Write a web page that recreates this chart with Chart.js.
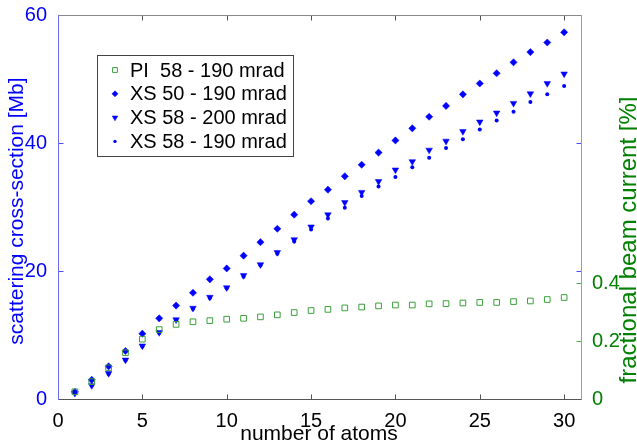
<!DOCTYPE html>
<html>
<head>
<meta charset="utf-8">
<script src="https://cdn.jsdelivr.net/npm/chart.js@4.4.1/dist/chart.umd.min.js"></script>
<style>
  html, body { margin: 0; padding: 0; background: #fff; }
  #wrap { width: 637px; height: 445px; }
</style>
</head>
<body>
<div id="wrap"><canvas id="chart" width="637" height="445"></canvas></div>
<script>
// values
const atoms = [1, 2, 3, 4, 5, 6, 7, 8, 9, 10, 11, 12, 13, 14, 15, 16, 17, 18, 19, 20, 21, 22, 23, 24, 25, 26, 27, 28, 29, 30];
const piFraction = [0.025, 0.060, 0.108, 0.160, 0.207, 0.240, 0.258, 0.267, 0.271, 0.276, 0.279, 0.284, 0.291, 0.299, 0.306,
                    0.310, 0.315, 0.318, 0.322, 0.325, 0.325, 0.329, 0.330, 0.332, 0.334, 0.334, 0.337, 0.339, 0.344, 0.351];
const xs50to190 = [1.1, 3.0, 5.1, 7.5, 10.2, 12.6, 14.6, 16.6, 18.7, 20.4, 22.4, 24.5, 26.6, 28.8, 30.9,
                   32.7, 34.8, 36.6, 38.5, 40.4, 42.3, 44.1, 45.8, 47.6, 49.3, 50.9, 52.6, 54.2, 55.7, 57.3];
const xs58to200 = [0.9, 2.1, 4.0, 6.1, 8.3, 10.4, 12.4, 14.2, 15.9, 17.4, 19.3, 21.0, 22.9, 24.9, 26.9,
                   28.8, 30.7, 32.3, 34.0, 35.8, 37.1, 38.9, 40.3, 41.8, 43.3, 44.7, 46.2, 47.7, 49.3, 50.8];
const xs58to190 = [0.9, 2.1, 3.9, 6.0, 8.2, 10.3, 12.3, 14.1, 15.8, 17.3, 19.1, 20.9, 22.7, 24.6, 26.5,
                   28.2, 29.9, 31.7, 33.2, 34.7, 36.2, 37.7, 39.2, 40.6, 42.1, 43.5, 44.9, 46.4, 47.6, 48.9];

const xTicks = [0, 5, 10, 15, 20, 25, 30];
const yTicks = [0, 20, 40, 60];
const y2Ticks = [0, 0.2, 0.4];

const FONT = 'Arial, "Liberation Sans", Helvetica, sans-serif';
const BLUE = '#0000ff';
const GREEN = '#008000';
const SQ_GREEN = '#3c9f3c';

const pts = arr => arr.map((v, i) => ({ x: atoms[i], y: v }));

const datasets = [
    {
        label: 'PI  58 - 190 mrad', data: pts(piFraction), yAxisID: 'y2',
        pointStyle: 'rect', pointRadius: 4, borderWidth: 1,
        borderColor: SQ_GREEN, backgroundColor: 'rgba(0,0,0,0)'
    },
    {
        label: 'XS 50 - 190 mrad', data: pts(xs50to190), yAxisID: 'y',
        pointStyle: 'rectRot', pointRadius: 3.6, borderWidth: 0.5,
        borderColor: BLUE, backgroundColor: BLUE
    },
    {
        label: 'XS 58 - 200 mrad', data: pts(xs58to200), yAxisID: 'y',
        pointStyle: 'triangle', pointRotation: 180, pointRadius: 3.8, borderWidth: 0.5,
        borderColor: BLUE, backgroundColor: BLUE
    },
    {
        label: 'XS 58 - 190 mrad', data: pts(xs58to190), yAxisID: 'y',
        pointStyle: 'circle', pointRadius: 2, borderWidth: 0,
        borderColor: BLUE, backgroundColor: BLUE
    }
];
datasets.forEach(d => { d.showLine = false; d.pointHoverRadius = d.pointRadius; });

// frame, inward ticks, legend box and axis titles
const decor = {
    id: 'decor',
    afterDraw(chart) {
        const { ctx, chartArea: a, scales } = chart;
        const L = Math.round(a.left) + 0.5, R = Math.round(a.right) + 0.5;
        const T = Math.round(a.top) + 0.5, B = Math.round(a.bottom) + 0.5;
        const tk = 5;
        ctx.save();
        ctx.lineWidth = 1;

        // x ticks, bottom and top
        ctx.strokeStyle = '#555';
        xTicks.forEach(v => {
            const px = Math.round(scales.x.getPixelForValue(v)) + 0.5;
            ctx.beginPath();
            ctx.moveTo(px, B); ctx.lineTo(px, B - tk);
            ctx.moveTo(px, T); ctx.lineTo(px, T + tk);
            ctx.stroke();
        });
        // left scale ticks on both sides
        ctx.strokeStyle = '#4d4dff';
        yTicks.forEach(v => {
            const py = Math.round(scales.y.getPixelForValue(v)) + 0.5;
            ctx.beginPath();
            ctx.moveTo(L, py); ctx.lineTo(L + tk, py);
            ctx.moveTo(R, py); ctx.lineTo(R - tk, py);
            ctx.stroke();
        });
        // right scale ticks
        ctx.strokeStyle = '#4caf4c';
        y2Ticks.forEach(v => {
            const py = Math.round(scales.y2.getPixelForValue(v)) + 0.5;
            ctx.beginPath();
            ctx.moveTo(R, py); ctx.lineTo(R - tk, py);
            ctx.stroke();
        });

        // frame
        ctx.strokeStyle = '#888';
        ctx.beginPath(); ctx.moveTo(L, T); ctx.lineTo(R, T); ctx.stroke();
        ctx.strokeStyle = '#555';
        ctx.beginPath(); ctx.moveTo(L, B); ctx.lineTo(R, B); ctx.stroke();
        ctx.strokeStyle = '#6a6aff';
        ctx.beginPath(); ctx.moveTo(L, T); ctx.lineTo(L, B); ctx.stroke();
        ctx.strokeStyle = '#6cbf6c';
        ctx.beginPath(); ctx.moveTo(R, T); ctx.lineTo(R, B); ctx.stroke();

        // legend
        ctx.fillStyle = '#fff';
        ctx.fillRect(97.5, 55.5, 196, 101);
        ctx.strokeStyle = '#444';
        ctx.strokeRect(97.5, 55.5, 196, 101);
        ctx.font = '20px ' + FONT;
        ctx.textBaseline = 'middle';
        ctx.textAlign = 'left';
        chart.data.datasets.forEach((d, i) => {
            const y = 70 + i * 23.8;
            ctx.fillStyle = d.backgroundColor;
            ctx.strokeStyle = d.borderColor;
            ctx.lineWidth = d.borderWidth || 0;
            Chart.helpers.drawPoint(ctx, {
                pointStyle: d.pointStyle, rotation: d.pointRotation || 0,
                radius: d.pointRadius * 0.85, borderWidth: d.borderWidth
            }, 115, y);
            ctx.fillStyle = '#000';
            ctx.fillText(d.label, 130, y + 1);
        });

        // axis titles
        ctx.font = '21px ' + FONT;
        ctx.textAlign = 'center';
        ctx.fillStyle = '#000';
        ctx.fillText('number of atoms', 319, 434);

        ctx.save();
        ctx.translate(17, 211);
        ctx.rotate(-Math.PI / 2);
        ctx.font = '21px ' + FONT;
        ctx.fillStyle = BLUE;
        ctx.fillText('scattering cross-section [Mb]', 0, 0);
        ctx.restore();

        ctx.save();
        ctx.translate(629, 240);
        ctx.rotate(-Math.PI / 2);
        ctx.font = '24px ' + FONT;
        ctx.fillStyle = GREEN;
        ctx.fillText('fractional beam current [%]', 0, 0);
        ctx.restore();

        ctx.restore();
    }
};

new Chart(document.getElementById('chart'), {
    type: 'scatter',
    data: { datasets: datasets },
    options: {
        responsive: false,
        animation: false,
        devicePixelRatio: 1,
        layout: { padding: { top: 14, left: 0, right: 0, bottom: 0 } },
        plugins: {
            legend: { display: false },
            tooltip: { enabled: false }
        },
        scales: {
            x: {
                type: 'linear', min: 0, max: 31,
                afterBuildTicks: s => { s.ticks = xTicks.map(v => ({ value: v })); },
                afterFit: s => { s.height = 46; },
                grid: { display: false },
                border: { display: false },
                ticks: { color: '#000', font: { size: 20, family: FONT }, padding: 2, maxRotation: 0 }
            },
            y: {
                position: 'left', min: 0, max: 60,
                afterBuildTicks: s => { s.ticks = yTicks.map(v => ({ value: v })); },
                afterFit: s => { s.width = 58; },
                grid: { display: false },
                border: { display: false },
                ticks: { color: BLUE, font: { size: 20, family: FONT }, padding: 3 }
            },
            y2: {
                position: 'right', min: 0, max: 1.328,
                afterBuildTicks: s => { s.ticks = y2Ticks.map(v => ({ value: v })); },
                afterFit: s => { s.width = 56; },
                grid: { display: false },
                border: { display: false },
                ticks: {
                    color: GREEN, font: { size: 20, family: FONT }, padding: 3,
                    callback: v => v === 0 ? '0' : v.toFixed(1)
                }
            }
        }
    },
    plugins: [decor]
});
</script>
</body>
</html>
